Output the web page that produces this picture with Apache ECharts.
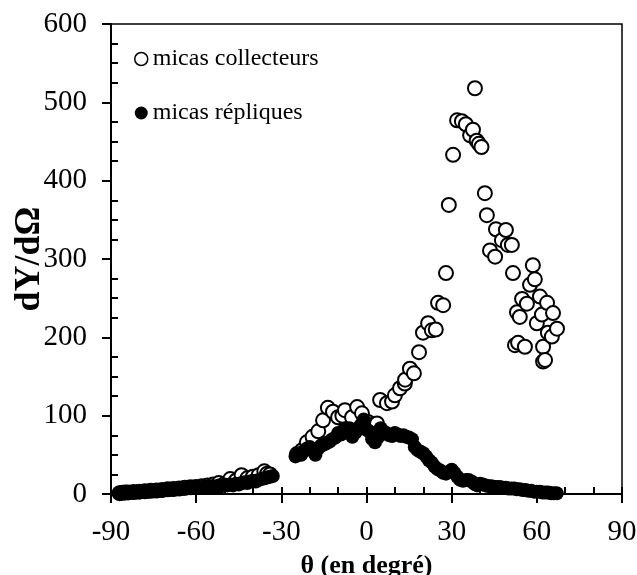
<!DOCTYPE html>
<html>
<head>
<meta charset="utf-8">
<script src="https://cdn.jsdelivr.net/npm/echarts@6/dist/echarts.min.js"></script>
<style>html,body{margin:0;padding:0;background:#fff}#c{width:637px;height:575px}</style>
</head>
<body>
<div id="c"></div>
<script>
// Tick values
var xTicks = [-90, -60, -30, 0, 30, 60, 90];
var yTicks = [0, 100, 200, 300, 400, 500, 600];

// "micas collecteurs" (open circles)
var collTheta = [-87, -86, -85, -84, -82, -80, -78, -76, -74, -72, -70, -68, -66, -64, -62, -60, -58, -56, -54, -52, -50, -48, -46, -44, -42, -40, -38, -36, -35, -34,
  -24.5, -22.7, -21, -19, -17, -15.3, -13.6, -11.8, -10, -8.5, -7.6, -5.1, -3.3, -1.6, 0.5, 2, 3.7, 4.8, 7.2, 9, 10, 11.8, 13.5, 13.6, 15.3, 16.7, 18.5, 19.9, 21.7, 23, 24.4, 25.2, 27, 28, 29, 30.5, 31.9, 33.6, 35, 36.5, 37.5, 38.2, 38.8, 39.6, 40.5, 41.7, 42.4, 43.5, 45.3, 45.6, 47.7, 49.1, 49.8, 51.2, 51.6, 52.3, 53, 53.4, 54, 54.8, 55.8, 56.5, 57.6, 58.6, 59.3, 60, 61.1, 61.8, 62.2, 62.2, 62.9, 63.6, 63.9, 65.3, 65.7, 67.1];
var collY = [1, 1.5, 2, 2, 2.5, 3, 3.5, 4, 4.5, 5, 6, 6.5, 7, 8, 8.5, 9, 10, 11, 12, 14, 13, 19, 17, 24, 20, 22, 24, 29, 26, 25,
  51, 56, 66, 73, 80, 94, 110, 105, 98, 100, 107, 98, 111, 103, 92, 88, 90, 120, 116, 118, 126, 135, 141, 146, 160, 154, 181, 206, 218, 209, 210, 244, 241, 282, 369, 433, 477, 476, 472, 458, 465, 518, 451, 447, 443, 384, 356, 311, 303, 338, 324, 337, 318, 318, 282, 190, 232, 193, 226, 249, 188, 243, 267, 292, 274, 218, 252, 229, 188, 169, 171, 244, 206, 201, 231, 211];

// "micas répliques" (filled circles)
var repTheta = [-87, -86, -85, -84, -83, -82, -81, -80, -79, -78, -77, -76, -75, -74, -73, -72, -71, -70, -69, -68, -67, -66, -65, -64, -63, -62, -61, -60, -59, -58, -57, -56, -55, -54, -53, -52, -51, -50, -49, -48, -47, -46, -45, -44, -43, -42, -41, -40, -39, -38, -37, -36, -35, -34, -33,
  -25, -24, -23, -22, -21, -20, -19, -18, -17, -16, -15, -14, -13, -12, -11, -10, -9, -8, -7, -6, -5, -4, -3, -2, -1, 0, 1, 2, 3, 4, 5, 6, 7, 8, 9, 10, 11, 12, 13, 14, 15, 16, 17, 18, 19, 20, 21, 22, 23, 24, 25, 26, 27, 28, 29, 30, 31, 32, 33, 34, 35, 36, 37, 38, 39, 40, 41, 42, 43, 44, 45, 46, 47, 48, 49, 50, 51, 52, 53, 54, 55, 56, 57, 58, 59, 60, 61, 62, 63, 64, 65, 66, 67];
var repY = [0.5, 1, 1, 1.5, 1.5, 2, 2, 2.5, 2.5, 3, 3, 3.5, 3.5, 4, 4, 4.5, 5, 5, 5.5, 5.5, 6, 6.5, 6.5, 7, 7.5, 8, 8, 8, 8.5, 9, 9, 9.5, 10, 10, 9, 11, 10, 12, 11, 12, 11, 13, 12, 14, 15, 14, 16, 17, 16, 18, 19, 20, 21, 22, 23,
  48, 52, 50, 55, 58, 60, 55, 50, 58, 62, 63, 65, 67, 70, 72, 78, 76, 82, 80, 84, 73, 78, 84, 88, 95, 82, 80, 70, 66, 72, 84, 80, 78, 75, 74, 78, 76, 74, 75, 73, 72, 70, 60, 56, 54, 52, 48, 43, 40, 35, 32, 30, 27, 26, 28, 31, 27, 22, 18, 17, 18, 18, 16, 13, 11, 13, 12, 11, 10, 10, 9, 9, 9, 8, 8, 7, 7, 7, 6, 6, 5, 5, 4, 4, 3, 3, 3, 2, 2, 2, 1, 1, 1];

var collData = collTheta.map(function (t, i) { return [t, collY[i]]; });
var repData = repTheta.map(function (t, i) { return [t, repY[i]]; });

var serif = '"Liberation Serif", "Times New Roman", serif';
var chart = echarts.init(document.getElementById('c'));
chart.setOption({
  animation: false,
  backgroundColor: '#fff',
  grid: { left: 111, right: 15, top: 24, bottom: 81, containLabel: false, outerBoundsMode: 'none', show: true, borderColor: '#000', borderWidth: 1.5, backgroundColor: 'transparent' },
  legend: {
    orient: 'vertical', left: 129, top: 42, itemGap: 30, itemWidth: 13, itemHeight: 13,
    textStyle: { fontFamily: serif, fontSize: 24, color: '#000' },
    data: [
      { name: 'micas collecteurs', icon: 'circle', itemStyle: { color: '#fff', borderColor: '#000', borderWidth: 1.5 } },
      { name: 'micas répliques', icon: 'circle' }
    ]
  },
  xAxis: [{
    type: 'value', min: xTicks[0], max: xTicks[xTicks.length - 1], interval: 30, position: 'bottom',
    name: 'θ (en degré)', nameLocation: 'middle', nameGap: 59, nameMoveOverlap: false,
    nameTextStyle: { fontFamily: serif, fontSize: 26, fontWeight: 'bold', color: '#000' },
    axisLine: { onZero: false, lineStyle: { color: '#000', width: 2 } },
    axisTick: { show: true, length: 9, lineStyle: { color: '#000', width: 2 } },
    axisLabel: { fontFamily: serif, fontSize: 29, color: '#000', margin: 24 },
    splitLine: { show: false }
  }, {
    type: 'value', min: xTicks[0], max: xTicks[xTicks.length - 1], interval: 30, position: 'bottom',
    axisLine: { show: false, onZero: false },
    axisTick: { show: true, inside: true, length: 7, lineStyle: { color: '#000', width: 2 } },
    minorTick: { show: true, splitNumber: 3, length: 7, lineStyle: { color: '#000', width: 2 } },
    axisLabel: { show: false }, splitLine: { show: false }
  }],
  yAxis: [{
    type: 'value', min: yTicks[0], max: yTicks[yTicks.length - 1], interval: 100, position: 'left',
    name: 'dY/dΩ', nameLocation: 'middle', nameGap: 63, nameMoveOverlap: false,
    nameTextStyle: { fontFamily: serif, fontSize: 36, fontWeight: 'bold', color: '#000' },
    axisLine: { onZero: false, lineStyle: { color: '#000', width: 2 } },
    axisTick: { show: true, length: 9, lineStyle: { color: '#000', width: 2 } },
    axisLabel: { fontFamily: serif, fontSize: 29, color: '#000', margin: 24 },
    splitLine: { show: false }
  }, {
    type: 'value', min: yTicks[0], max: yTicks[yTicks.length - 1], interval: 100, position: 'left',
    axisLine: { show: false, onZero: false },
    axisTick: { show: false, inside: true },
    minorTick: { show: true, splitNumber: 4, length: 7, lineStyle: { color: '#000', width: 2 } },
    axisLabel: { show: false }, splitLine: { show: false }
  }],
  series: [{
    name: 'micas collecteurs', type: 'scatter', data: collData, symbol: 'circle', symbolSize: 14,
    itemStyle: { color: '#fff', borderColor: '#000', borderWidth: 2, opacity: 1 }
  }, {
    name: 'micas répliques', type: 'scatter', data: repData, symbol: 'circle', symbolSize: 14,
    itemStyle: { color: '#000', opacity: 1 }
  }]
});
</script>
</body>
</html>
